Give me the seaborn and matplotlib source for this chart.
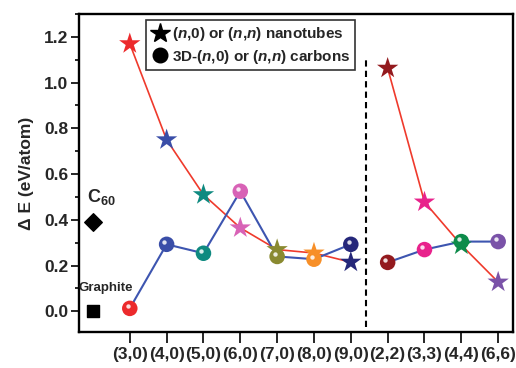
import numpy as np
import pandas as pd
import matplotlib.pyplot as plt
import matplotlib.transforms as mtransforms
from matplotlib.lines import Line2D
from matplotlib.ticker import MultipleLocator
import seaborn as sns

sns.set_style('ticks')
plt.rcParams['font.family'] = ['Liberation Sans', 'DejaVu Sans']
plt.rcParams['mathtext.fontset'] = 'custom'
plt.rcParams['mathtext.rm'] = 'Liberation Sans:bold'
plt.rcParams['mathtext.it'] = 'Liberation Sans:italic:bold'
plt.rcParams['mathtext.bf'] = 'Liberation Sans:bold'

# data
tubes = ['(3,0)', '(4,0)', '(5,0)', '(6,0)', '(7,0)', '(8,0)', '(9,0)',
         '(2,2)', '(3,3)', '(4,4)', '(6,6)']
family = ['zigzag'] * 7 + ['armchair'] * 4
nanotube_E = [1.17, 0.75, 0.51, 0.365, 0.27, 0.255, 0.215, 1.063, 0.478, 0.29, 0.128]
carbon3d_E = [0.013, 0.293, 0.254, 0.525, 0.24, 0.228, 0.293, 0.214, 0.27, 0.305, 0.305]
point_colors = ['#ec2a2c', '#3a4ea8', '#0f8a80', '#d862b6', '#8a8a30', '#f78f28',
                '#25277a', '#931a1e', '#e8228c', '#0d8b4a', '#7a52a8']
graphite_E = 0.0
c60_E = 0.39

pos = np.arange(1, len(tubes) + 1)
df = pd.DataFrame({'pos': pos, 'tube': tubes, 'family': family,
                   'tube_E': nanotube_E, 'c3d_E': carbon3d_E})
pal = dict(zip(tubes, point_colors))

fig = plt.figure(figsize=(5.16, 3.68), dpi=100)
ax = fig.add_axes([0.153, 0.098, 0.841, 0.864])

sns.lineplot(data=df, x='pos', y='tube_E', units='family', estimator=None,
             color='#ef3a2c', lw=1.2, ax=ax, zorder=2)
sns.lineplot(data=df, x='pos', y='c3d_E', units='family', estimator=None,
             color='#3d55b0', lw=1.5, ax=ax, zorder=2)
sns.scatterplot(data=df, x='pos', y='tube_E', hue='tube', palette=pal, marker='*',
                s=260, linewidth=0, legend=False, ax=ax, zorder=3)
sns.scatterplot(data=df, x='pos', y='c3d_E', hue='tube', palette=pal, marker='o',
                s=125, linewidth=0, legend=False, ax=ax, zorder=4)
# little shine on the spheres
shine = mtransforms.offset_copy(ax.transData, fig=fig, x=-1.6, y=1.8, units='points')
ax.scatter(df['pos'], df['c3d_E'], s=10, color='white', alpha=0.85,
           linewidth=0, transform=shine, zorder=5)

# reference structures
ax.scatter([0], [c60_E], marker='D', s=80, color='black', zorder=4)
ax.scatter([0], [graphite_E], marker='s', s=75, color='black', zorder=4)
ax.text(-0.15, 0.455, r'C$_{60}$', fontsize=13, fontweight='bold', ha='left', va='bottom')
ax.text(0.35, 0.075, 'Graphite', fontsize=9.5, fontweight='bold', ha='center', va='bottom')

ax.vlines(7.4, -0.07, 1.1, colors='black', linestyles=(0, (3, 2)), lw=1.5)

ax.set_xlim(-0.38, 11.4)
ax.set_ylim(-0.09, 1.30)
ax.set_xticks(pos)
ax.set_xticklabels(tubes, fontsize=12.5, fontweight='bold')
ax.yaxis.set_minor_locator(MultipleLocator(0.1))
ax.set_yticks(np.arange(0, 1.21, 0.2))
ax.set_yticklabels([f'{v:.1f}' for v in np.arange(0, 1.21, 0.2)], fontsize=12.5, fontweight='bold')
ax.tick_params(axis='x', length=8, width=1.4, pad=3)
ax.tick_params(axis='y', which='major', length=5.5, width=1.4, pad=2)
ax.tick_params(axis='y', which='minor', length=3, width=1.4)
ax.set_xlabel('')
ax.set_ylabel('Δ E (eV/atom)', fontsize=12.5, fontweight='bold', labelpad=7)
for sp in ax.spines.values():
    sp.set_linewidth(1.7)
    sp.set_color('black')

handles = [Line2D([], [], ls='', marker='*', ms=15, color='black'),
           Line2D([], [], ls='', marker='o', ms=10.5, color='black')]
labels = [r'($n$,0) or ($n$,$n$) nanotubes', r'3D-($n$,0) or ($n$,$n$) carbons']
leg = ax.legend(handles, labels, loc='upper left', bbox_to_anchor=(0.155, 0.98),
                prop={'size': 11, 'weight': 'bold'}, frameon=True, fancybox=False,
                edgecolor='black', handletextpad=0.2, handlelength=1.2,
                borderpad=0.3, labelspacing=0.3, borderaxespad=0)
leg.get_frame().set_linewidth(1.2)

plt.savefig('out.png', dpi=100)
